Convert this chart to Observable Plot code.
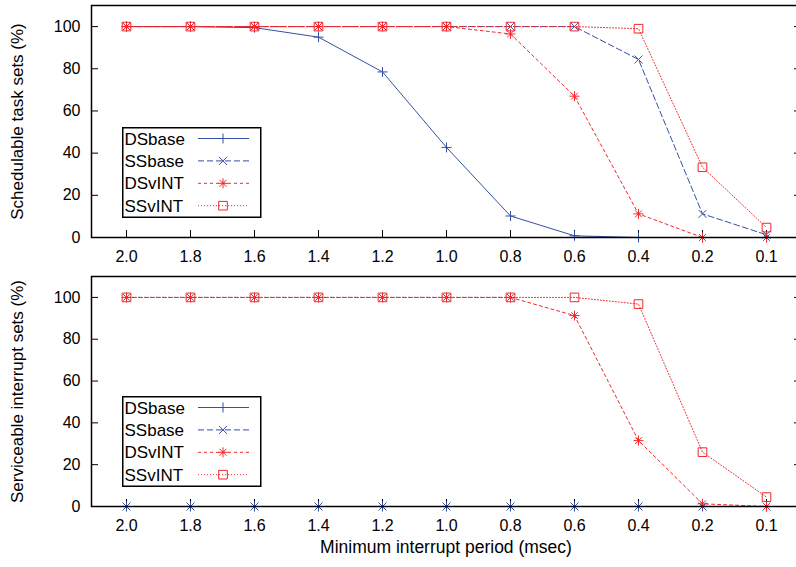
<!DOCTYPE html>
<html><head><meta charset="utf-8">
<script src="https://cdn.jsdelivr.net/npm/d3@7"></script>
<script src="https://cdn.jsdelivr.net/npm/@observablehq/plot@0.6"></script>
<style>
html,body{margin:0;padding:0;background:#fff;overflow:hidden;}
#wrap{position:relative;width:796px;height:567px;overflow:hidden;font-family:"Liberation Sans",Arial,Helvetica,sans-serif;}
#wrap svg{display:block;max-width:none !important;}
#wrap svg.legend{position:absolute;}
</style></head><body><div id="wrap"></div>
<script>
// ---- data ----
const periods = ["2.0","1.8","1.6","1.4","1.2","1.0","0.8","0.6","0.4","0.2","0.1"];
const seriesNames = ["DSbase","SSbase","DSvINT","SSvINT"];
const yTicks = [0,20,40,60,80,100];
// Schedulable task sets (%)
const taskDSbase = [100,100,99.5,95,78.5,42.7,10.2,0.8,0,0,0];
const taskSSbase = [100,100,100,100,100,100,100,100,84.4,11.2,1.3];
const taskDSvINT = [100,100,100,100,100,100,96.5,67,11.2,0,0];
const taskSSvINT = [100,100,100,100,100,100,100,100,99,33.3,4.7];
// Serviceable interrupt sets (%)
const intrDSbase = [0,0,0,0,0,0,0,0,0,0,0];
const intrSSbase = [0,0,0,0,0,0,0,0,0,0,0];
const intrDSvINT = [100,100,100,100,100,100,100,91.3,31.5,1.3,0];
const intrSSvINT = [100,100,100,100,100,100,100,100,96.8,26,4.5];

// ---- styles ----
const BLUE = "#3550a5", RED = "#f0282d";
const seriesStyle = {
  DSbase: {color: BLUE, dash: null, symbols: [["plus", 3.3]]},
  SSbase: {color: BLUE, dash: "6,3", symbols: [["times", 3.7]]},
  DSvINT: {color: RED, dash: "3,3", symbols: [["plus", 3.3], ["times", 3.2]]},
  SSvINT: {color: RED, dash: "1,2", symbols: [["square2", 5.5]]}
};
const symMap = {plus: d3.symbolPlus, times: d3.symbolTimes, square2: d3.symbolSquare2};
const FONT = '"Liberation Sans", Arial, Helvetica, sans-serif';

function panel(values, yLabel, xTitle, height, marginTop, marginBottom) {
  const rows = [];
  seriesNames.forEach((name, s) => values[s].forEach((v, i) => rows.push({period: periods[i], value: v, series: name})));
  const marks = [
    Plot.axisX({tickSize: -7, tickPadding: 20, label: null, fontSize: 16}),
    Plot.axisY({ticks: yTicks, tickSize: -7, tickPadding: 18, label: null, fontSize: 16}),
    Plot.axisY({anchor: "right", ticks: yTicks, tickSize: -7, tickFormat: () => "", label: null}),
    Plot.axisY({ticks: [], tickSize: 0, tickFormat: () => "", label: yLabel, labelAnchor: "center", labelOffset: 81, labelArrow: false, fontSize: 17})
  ];
  if (xTitle) marks.push(Plot.axisX({ticks: [], tickSize: 0, tickFormat: () => "", label: xTitle, labelAnchor: "center", labelOffset: 46, labelArrow: false, fontSize: 17.5}));
  for (const name of seriesNames) {
    const st = seriesStyle[name];
    const d = rows.filter(r => r.series === name);
    marks.push(Plot.line(d, {x: "period", y: "value", stroke: st.color, strokeWidth: 1, strokeDasharray: st.dash}));
    for (const [sym, r] of st.symbols) {
      marks.push(Plot.dot(d, {x: "period", y: "value", symbol: sym, r, stroke: st.color, strokeWidth: 1, fill: "none"}));
    }
  }
  marks.push(Plot.frame({stroke: "#000", strokeWidth: 1.5}));
  return Plot.plot({
    width: 800, height, marginLeft: 91, marginRight: 0, marginTop, marginBottom,
    x: {type: "point", domain: periods, padding: 0.5},
    y: {domain: [0, 110]},
    style: {fontFamily: FONT, fontSize: "16px", color: "#000", background: "#fff", overflow: "visible"},
    marks
  });
}

function addLegend(top) {
  const W = 138, H = 89.5;
  const svg = d3.select("#wrap").append("svg").attr("class", "legend")
    .style("left", "122px").style("top", top + "px")
    .attr("width", W + 2).attr("height", H + 2);
  svg.append("rect").attr("x", 0.75).attr("y", 0.75).attr("width", W).attr("height", H)
    .attr("fill", "#fff").attr("stroke", "#000").attr("stroke-width", 1.5);
  seriesNames.forEach((name, i) => {
    const cy = 11.5 + i * 22.4;
    const st = seriesStyle[name];
    svg.append("text").attr("x", 2.5).attr("y", cy).attr("dy", "0.36em")
      .attr("font-size", 17).attr("font-family", FONT).text(name);
    svg.append("line").attr("x1", 76).attr("x2", 127).attr("y1", cy).attr("y2", cy)
      .attr("stroke", st.color).attr("stroke-width", 1).attr("stroke-dasharray", st.dash);
    for (const [sym, r] of st.symbols) {
      svg.append("path").attr("transform", `translate(101,${cy})`)
        .attr("d", d3.symbol(symMap[sym], Math.PI * r * r)())
        .attr("fill", "none").attr("stroke", st.color).attr("stroke-width", 1);
    }
  });
}

const wrap = document.getElementById("wrap");
wrap.append(panel([taskDSbase, taskSSbase, taskDSvINT, taskSSvINT], "Schedulable task sets (%)", null, 268, 5, 31));
wrap.append(panel([intrDSbase, intrSSbase, intrDSvINT, intrSSvINT], "Serviceable interrupt sets (%)", "Minimum interrupt period (msec)", 299, 8, 61));
addLegend(127);
addLegend(396);
</script>
</body></html>
